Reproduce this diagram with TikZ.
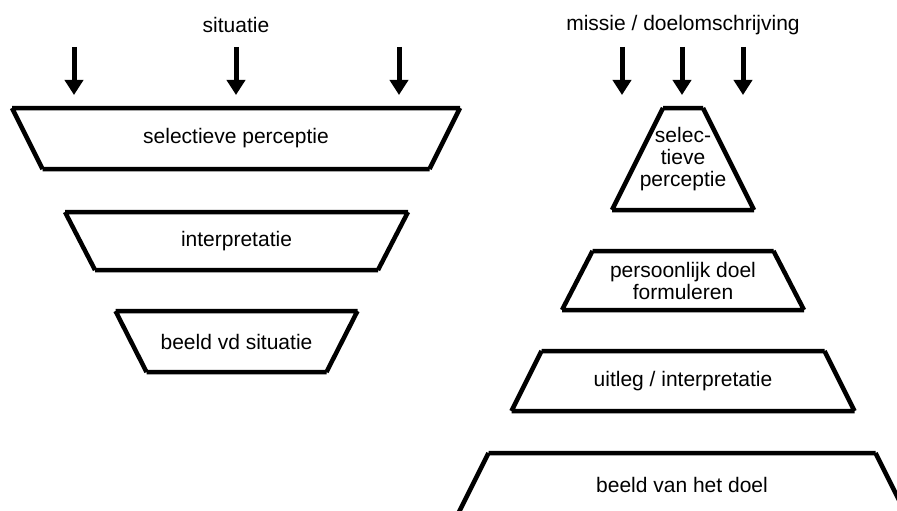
\documentclass[tikz,border=0pt]{standalone}
\usepackage{fontspec}
\setmainfont{Liberation Sans}
\usetikzlibrary{arrows.meta}

\tikzset{
  outline/.style={line width=4.5pt, line cap=butt},
  label/.style={font=\fontsize{21}{22}\selectfont, align=center, inner sep=0pt},
  feed/.style={line width=5pt, -{Triangle[length=15pt,width=18pt]}},
}

% \trapbox{name}{centre x}{top y}{bottom y}{half top width}{half bottom width}{text}
\newcommand\trapbox[7]{%
  \coordinate (#1-tl) at (#2-#5,#3);
  \coordinate (#1-tr) at (#2+#5,#3);
  \coordinate (#1-br) at (#2+#6,#4);
  \coordinate (#1-bl) at (#2-#6,#4);
  \draw[outline] (#1-tl) -- (#1-tr) (#1-tr) -- (#1-br)
                 (#1-br) -- (#1-bl) (#1-bl) -- (#1-tl);
  \node[label] (#1) at (#2,{(#3+#4)/2}) {#7};
}

\begin{document}
\begin{tikzpicture}[x=1pt,y=-1pt]
  \useasboundingbox (0,0) rectangle (897,511);
  \clip (0,0) rectangle (897,511);

  % left funnel: perceiving a situation
  \node[label] (sit) at (236,25) {situatie};
  \foreach \n/\xx in {la/74, lb/236, lc/399}{
    \coordinate (\n-s) at (\xx,47);
    \coordinate (\n-e) at (\xx,95);
    \draw[feed] (\n-s) -- (\n-e);
  }
  \trapbox{sel}{236}{108}{169}{224}{193.5}{selectieve perceptie}
  \trapbox{int}{236.5}{212}{270}{171.5}{141.5}{interpretatie}
  \trapbox{bvs}{236.5}{311}{372}{121}{90}{beeld vd situatie}

  % right pyramid: from mission to goal
  \node[label] (mis) at (683,25) {missie / doelomschrijving};
  \foreach \n/\xx in {ra/622, rb/682, rc/743}{
    \coordinate (\n-s) at (\xx,47);
    \coordinate (\n-e) at (\xx,95);
    \draw[feed] (\n-s) -- (\n-e);
  }
  \trapbox{rsel}{683}{108}{210}{20}{71}{selec-\\tieve\\perceptie}
  \trapbox{pdf}{683}{251}{310}{90.5}{121}{persoonlijk doel\\formuleren}
  \trapbox{uit}{683}{351}{411}{141.5}{171.5}{uitleg / interpretatie}
  \trapbox{bhd}{682}{453}{516}{193.5}{225}{beeld van het doel}
\end{tikzpicture}
\end{document}
